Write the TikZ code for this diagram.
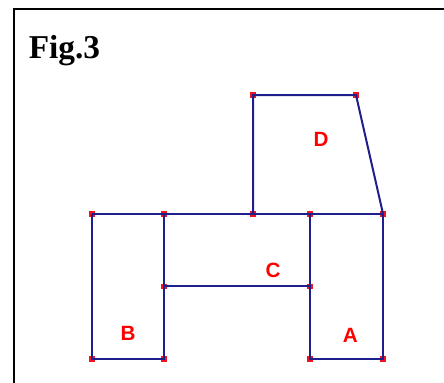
\documentclass[tikz,border=0pt]{standalone}
\usepackage{fontspec}
\setmainfont{Liberation Serif}
\newfontfamily\labfont{Liberation Sans}
\definecolor{edgeblue}{RGB}{30,30,140}
\definecolor{dotred}{RGB}{240,20,30}
\definecolor{labred}{RGB}{255,0,0}
\begin{document}
\begin{tikzpicture}[x=0.75pt,y=-0.75pt,
  edge/.style={draw=edgeblue,line width=2pt*0.75},
  frame/.style={draw=black,line width=2.4pt*0.75},
  vdot/.style={fill=dotred,draw=none,minimum size=4.2pt,inner sep=0pt,outer sep=0pt,rectangle},
  lab/.style={text=labred,font=\labfont\bfseries\fontsize{15.5pt}{18pt}\selectfont,inner sep=0pt},
  title/.style={font=\bfseries\fontsize{25pt}{29pt}\selectfont,inner sep=0pt,anchor=base west}]
\useasboundingbox (0,0) rectangle (444,383);
% frame
\coordinate (fbl) at (14,390);
\coordinate (ftl) at (14,9);
\coordinate (ftr) at (450,9);
\draw[frame] (fbl) -- (ftl) -- (ftr);
\node[title] (fig) at (28.5,58) {Fig.3};
% vertices
\coordinate (p1) at (92,213.7);
\coordinate (p2) at (164,213.7);
\coordinate (p3) at (253,213.7);
\coordinate (p4) at (310,213.7);
\coordinate (p5) at (383,213.7);
\coordinate (dtl) at (253,95);
\coordinate (dtr) at (356,95);
\coordinate (m2) at (164,286.3);
\coordinate (m4) at (310,286.3);
\coordinate (b1) at (92,359);
\coordinate (b2) at (164,359);
\coordinate (a1) at (310,359);
\coordinate (a2) at (383,359);
% dots
\foreach \v in {p1,p2,p3,p4,p5,dtl,dtr,m2,m4,b1,b2,a1,a2}
  \node[vdot] (dot-\v) at (\v) {};
% edges
\draw[edge] (p1) -- (p2) -- (p3) -- (p4) -- (p5);
\draw[edge] (p1) -- (b1) -- (b2) -- (m2) -- (p2);
\draw[edge] (m2) -- (m4);
\draw[edge] (p4) -- (m4) -- (a1) -- (a2) -- (p5);
\draw[edge] (p3) -- (dtl) -- (dtr) -- (p5);
% labels
\node[lab] (labD) at (321,139.5) {D};
\node[lab] (labC) at (273,270.5) {C};
\node[lab] (labB) at (128,333.3) {B};
\node[lab] (labA) at (350.3,335.3) {A};
\end{tikzpicture}
\end{document}
